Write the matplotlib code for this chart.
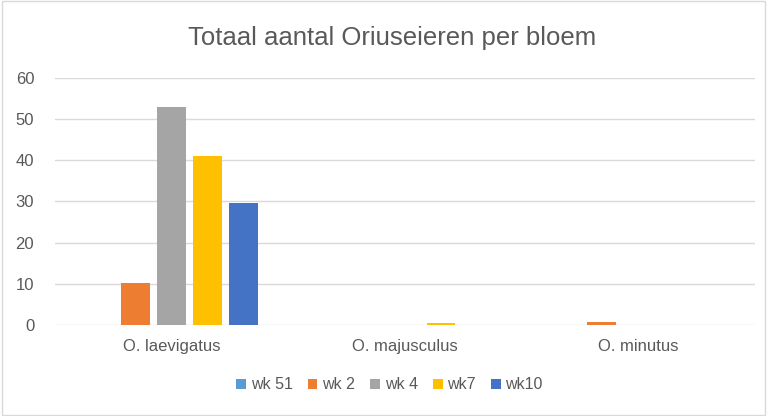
import matplotlib.pyplot as plt
import numpy as np

plt.rcParams['font.family'] = ['Liberation Sans', 'DejaVu Sans']

categories = ['O. laevigatus', 'O. majusculus', 'O. minutus']
series = ['wk 51', 'wk 2', 'wk 4', 'wk7', 'wk10']
values = {
    'wk 51': [0, 0, 0],
    'wk 2': [10.2, 0, 0.8],
    'wk 4': [53, 0, 0],
    'wk7': [41.1, 0.5, 0],
    'wk10': [29.7, 0, 0],
}
colors = ['#5B9BD5', '#ED7D31', '#A5A5A5', '#FFC000', '#4472C4']

text_col = '#595959'

fig = plt.figure(figsize=(7.67, 4.16), dpi=100)
ax = fig.add_axes([0.0717, 0.2188, 0.9123, 0.5937])

x = np.arange(len(categories))
step = 0.155
width = 0.124
for i, s in enumerate(series):
    ax.bar(x + (i - 2) * step, values[s], width, color=colors[i], label=s, zorder=3)

ax.set_xlim(-0.5, 2.5)
ax.set_ylim(0, 60)
ax.set_yticks(range(0, 61, 10))
ax.set_xticks(x)
ax.set_xticklabels(categories)
ax.grid(axis='y', color='#D9D9D9', linewidth=1, zorder=0)
for sp in ax.spines.values():
    sp.set_visible(False)
ax.tick_params(axis='both', length=0, colors=text_col, labelsize=12)
ax.tick_params(axis='x', pad=10)
ax.tick_params(axis='y', pad=15)

fig.text(0.511, 0.908, 'Totaal aantal Oriuseieren per bloem', ha='center', va='center',
         fontsize=18.5, color=text_col)

leg = fig.legend(loc='center', bbox_to_anchor=(0.508, 0.075), ncol=5, frameon=False,
                 fontsize=11.5, handlelength=0.6, handleheight=0.6, handletextpad=0.3,
                 columnspacing=0.95)
for t in leg.get_texts():
    t.set_color(text_col)

fig.patches.append(plt.Rectangle((0.002, 0.003), 0.995, 0.994, transform=fig.transFigure,
                                 fill=False, edgecolor='#D9D9D9', linewidth=1))

fig.savefig('out.png', dpi=100)
